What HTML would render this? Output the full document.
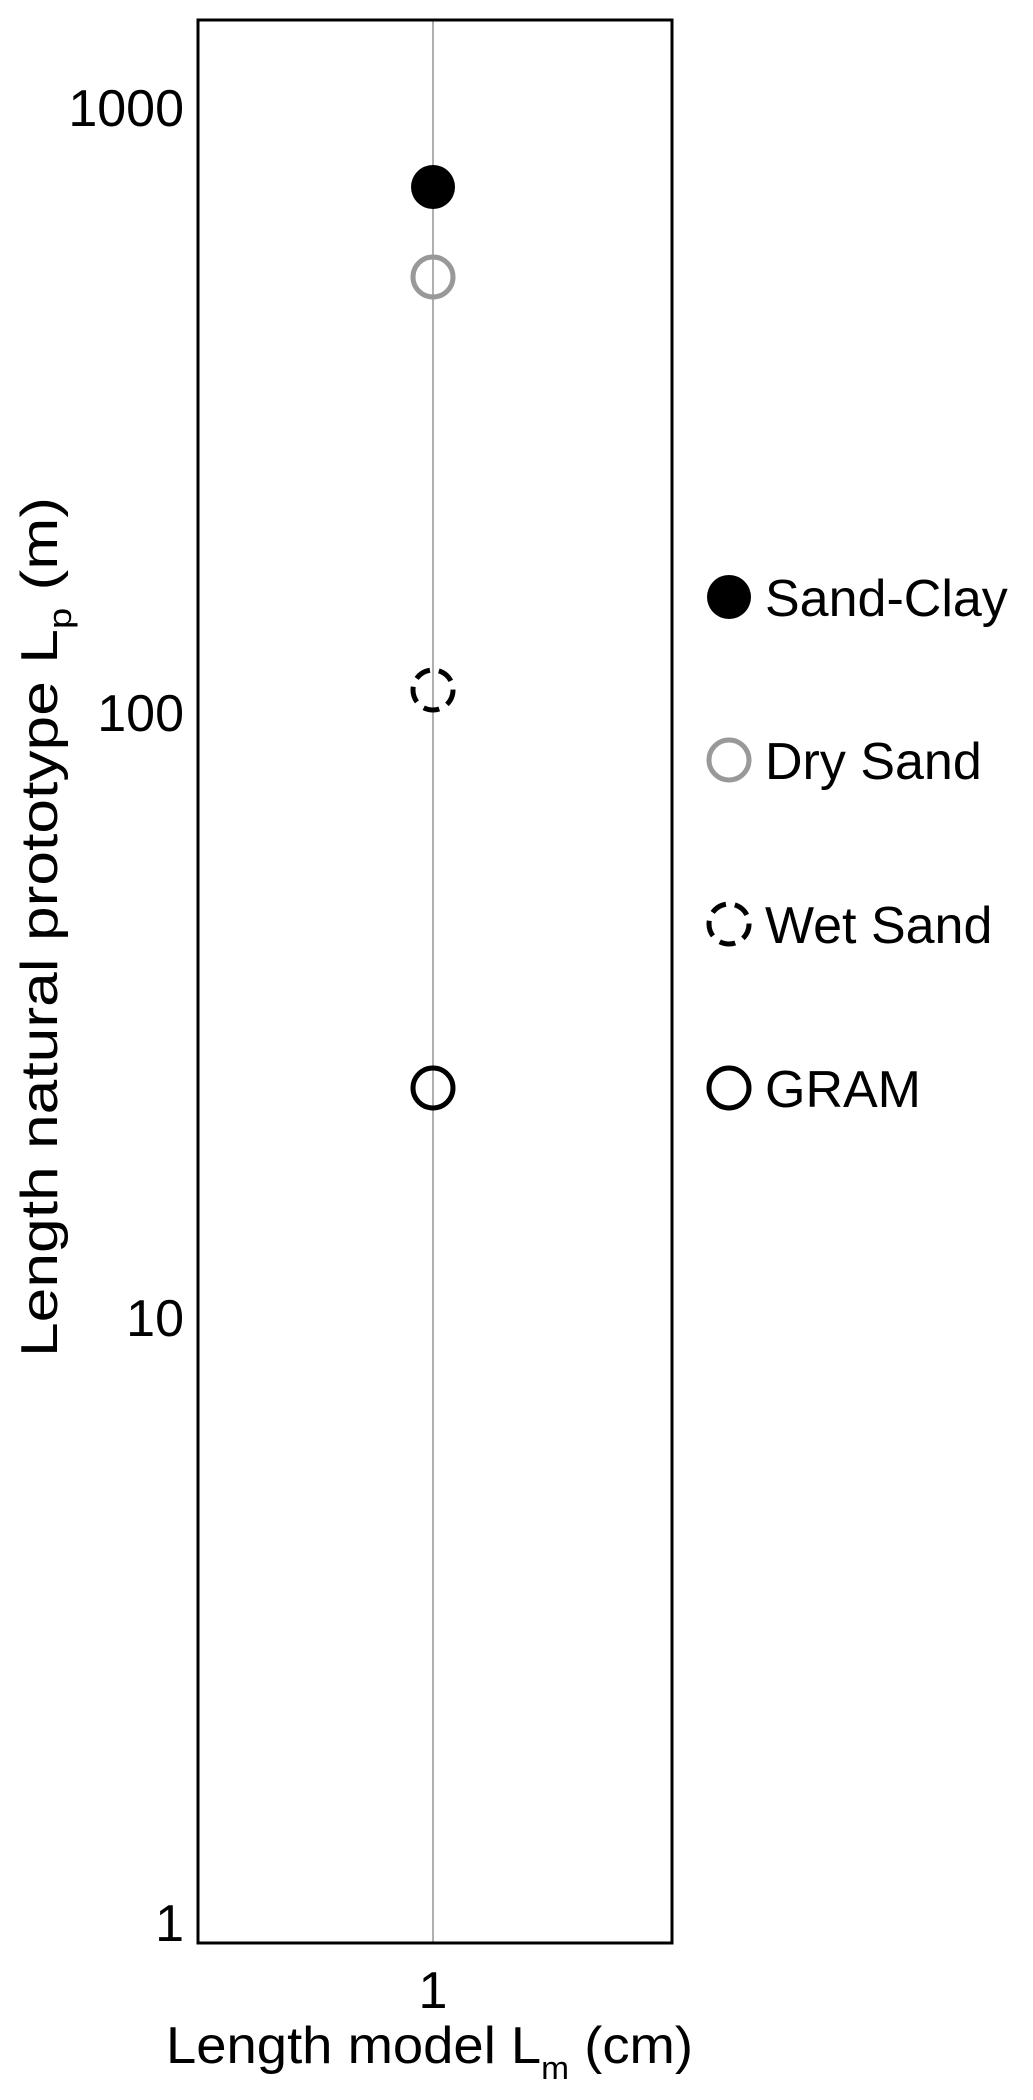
<!DOCTYPE html>
<html><head><meta charset="utf-8"><style>html,body{margin:0;padding:0;background:#fff;}svg{display:block;}</style></head>
<body>
<svg width="1033" height="2100" viewBox="0 0 1033 2100" xmlns="http://www.w3.org/2000/svg" font-family="Liberation Sans, Arial, sans-serif">
<rect x="0" y="0" width="1033" height="2100" fill="#fff"/>
<line x1="433" y1="20" x2="433" y2="1943" stroke="#b0b0b0" stroke-width="2"/>
<rect x="198" y="20" width="474" height="1923" fill="none" stroke="#000" stroke-width="3"/>
<g font-size="52" text-anchor="end" fill="#000">
<text x="184" y="126">1000</text>
<text x="184" y="731">100</text>
<text x="184" y="1336">10</text>
<text x="184" y="1941">1</text>
</g>
<text x="433" y="2008" font-size="52" text-anchor="middle">1</text>
<text x="166" y="2063" font-size="52" textLength="527" lengthAdjust="spacingAndGlyphs">Length model L<tspan font-size="32" dy="16">m</tspan><tspan dy="-16"> (cm)</tspan></text>
<text transform="translate(57,1357) rotate(-90)" font-size="52" textLength="860" lengthAdjust="spacingAndGlyphs">Length natural prototype L<tspan font-size="32" dy="14">p</tspan><tspan dy="-14"> (m)</tspan></text>
<circle cx="433" cy="187" r="22" fill="#000"/>
<circle cx="433" cy="277" r="20" fill="none" stroke="#999" stroke-width="5"/>
<circle cx="433" cy="690" r="20" fill="none" stroke="#000" stroke-width="5" stroke-dasharray="16 9"/>
<circle cx="433" cy="1088" r="20" fill="none" stroke="#000" stroke-width="5"/>
<circle cx="729" cy="597" r="22" fill="#000"/>
<circle cx="729" cy="760" r="20" fill="none" stroke="#999" stroke-width="5"/>
<circle cx="729" cy="924" r="20" fill="none" stroke="#000" stroke-width="5" stroke-dasharray="16 9"/>
<circle cx="729" cy="1088" r="20" fill="none" stroke="#000" stroke-width="5"/>
<g font-size="52" fill="#000">
<text x="765" y="616">Sand-Clay</text>
<text x="765" y="779">Dry Sand</text>
<text x="765" y="943">Wet Sand</text>
<text x="765" y="1107">GRAM</text>
</g>
</svg>
</body></html>
